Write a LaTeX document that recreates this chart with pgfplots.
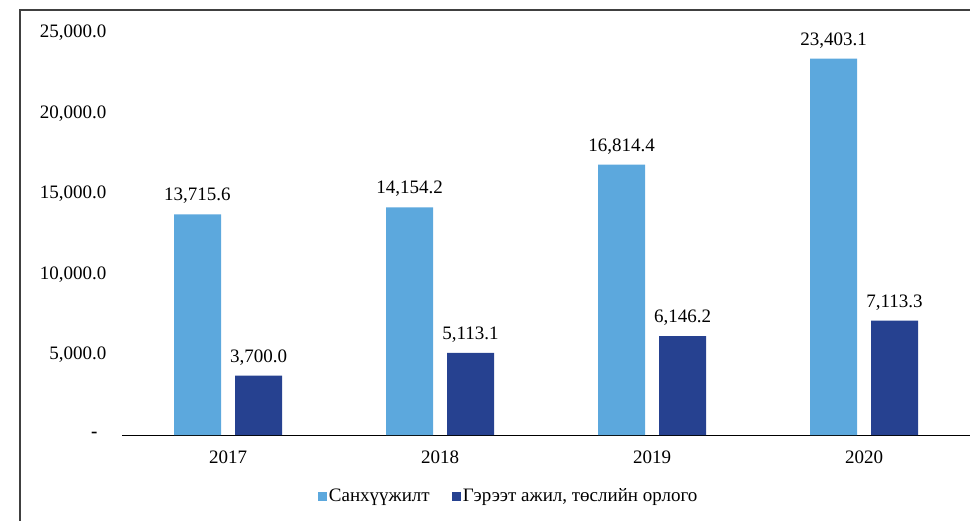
\documentclass[border=0pt]{standalone}
\usepackage{fontspec}
\setmainfont{Liberation Serif}
\usepackage{pgfplots}
\pgfplotsset{compat=1.18}
\definecolor{lightbar}{HTML}{5CA8DD}
\definecolor{darkbar}{HTML}{264190}
\newcommand{\chartfont}{\fontsize{19}{22}\selectfont}

\begin{document}
\begin{tikzpicture}[x=1pt,y=1pt]
\useasboundingbox (0,0) rectangle (970,520);
% outer frame of the figure
\draw[black!75, line width=1.2pt] (20,-5) -- (20,510) -- (975,510);
\begin{axis}[
  at={(122pt,85pt)}, anchor=south west,
  scale only axis, width=848pt, height=402pt,
  xmin=-0.5, xmax=3.5, ymin=0, ymax=25000,
  axis lines*=left,
  y axis line style={draw=none},
  x axis line style={black, line width=1pt},
  tick style={draw=none},
  scaled y ticks=false,
  xtick={0,1,2,3},
  xticklabels={2017,2018,2019,2020},
  ytick={0,5000,10000,15000,20000,25000},
  yticklabels={{\textbf{-}\rule{9pt}{0pt}},{5,000.0},{10,000.0},{15,000.0},{20,000.0},{25,000.0}},
  tick label style={font=\chartfont},
  yticklabel style={xshift=-12pt},
  xticklabel style={yshift=-8pt},
  ybar=14pt, bar width=47pt,
  /pgf/number format/.cd, fixed, fixed zerofill, precision=1, 1000 sep={,}, assume math mode=true,
  /pgfplots/.cd,
  nodes near coords,
  nodes near coords style={font=\chartfont, yshift=7pt},
  legend columns=2,
  legend style={draw=none, fill=none, at={(0.456,-0.152)}, anchor=center, font=\chartfont,
    /tikz/every even column/.append style={column sep=20pt},
    nodes={inner xsep=2pt}},
  legend image code/.code={\fill[#1] (0pt,-4.5pt) rectangle (9pt,4.5pt);},
]
\addplot[fill=lightbar, draw=none] coordinates {
  (0,13715.6) (1,14154.2) (2,16814.4) (3,23403.1)
};
\addplot[fill=darkbar, draw=none] coordinates {
  (0,3700.0) (1,5113.1) (2,6146.2) (3,7113.3)
};
\legend{Санхүүжилт, {Гэрээт ажил, төслийн орлого}}
\end{axis}
\end{tikzpicture}
\end{document}
